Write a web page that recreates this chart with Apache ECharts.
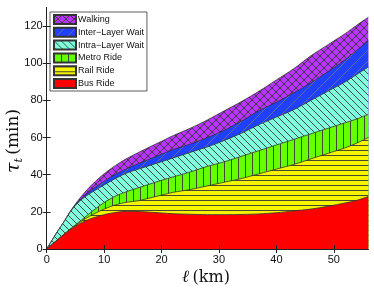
<!DOCTYPE html>
<html><head><meta charset="utf-8">
<script src="https://cdn.jsdelivr.net/npm/echarts@6/dist/echarts.min.js"></script>
<style>html,body{margin:0;padding:0;background:#fff}#c{width:374px;height:288px}</style>
</head><body><div id="c"></div>
<script>
// distance l (km)
const dist = [0,1,2,3,4,5,6,7,8,10,12,14,16,18,20,22,25,28,31,34,37,40,43,46,49,52,54,56];
// cumulative boundaries (top of each layer), minutes
const busTop    = [0,2.6,5.3,7.8,10.2,12.3,14,15.5,16.7,18.5,19.7,20.3,20.2,19.8,19.4,19,18.7,18.5,18.5,18.6,18.9,19.5,20.5,21.5,23,24.8,26.2,28.3];
const railTop   = [0,2.6,5.3,7.8,10.3,12.6,14.8,16.8,18.5,21.5,23.8,25.2,26,27.5,29,30.5,32,34,36,38,40.5,43,45.5,48.5,51.5,54.5,57,60];
const metroTop  = [0,2.6,5.3,7.9,10.5,13,15.5,18,20.5,25,28.5,31,33,35,37,38.8,41.5,44.5,47,50,53,56,59,62,65,68,70,72.5];
const intraTop  = [0,5,10,14.6,19.5,23.5,26.5,28.8,30.8,34.5,38,41,43,45,47,49,52,55,58.5,62.5,67,71,75,80,85,90,94,98];
const interTop  = [0,5,10,14.6,19.6,23.7,27,29.8,32.2,36.5,40.2,43.3,46,48.5,51,53.5,56.5,60,64,69,74.5,79,84,89.5,95.5,102,107,112];
const walkTop   = [0,5,10,14.6,19.8,24.2,28.2,31.8,35,40.5,45,48.8,52,55,58,61,65,69.5,74.5,79.5,85,91,97,104,110,116,120.5,124.7];
const names = ['Bus Ride','Rail Ride','Metro Ride','Intra\u2212Layer Wait','Inter\u2212Layer Wait','Walking'];
const yTicks = [0,20,40,60,80,100,120];
const xTicks = [0,10,20,30,40,50];

function pat(bg, size, draw, stroke){
  const c=document.createElement('canvas'); c.width=size; c.height=size;
  const g=c.getContext('2d'); g.fillStyle=bg; g.fillRect(0,0,size,size);
  g.strokeStyle=stroke||'rgba(55,55,55,0.9)'; g.lineWidth=1; g.beginPath(); draw(g,size); g.stroke();
  return {image:c, repeat:'repeat'};
}
const back=(g,s)=>{for(let k=-1;k<=1;k++){g.moveTo(k*s,0);g.lineTo(k*s+s,s);}};
const fwd=(g,s)=>{for(let k=-1;k<=1;k++){g.moveTo(k*s,s);g.lineTo(k*s+s,0);}};
const fills = [
  '#FF0000',
  pat('#F5F500',5,(g,s)=>{g.moveTo(0,0.5);g.lineTo(s,0.5);}),
  pat('#66FF00',7,(g,s)=>{g.moveTo(0.5,0);g.lineTo(0.5,s);}),
  pat('#80FFDD',7,back),
  pat('#2040FF',11,fwd,'rgba(110,110,140,0.9)'),
  pat('#BB33FF',8,(g,s)=>{back(g,s);fwd(g,s);})
];
const tops=[busTop,railTop,metroTop,intraTop,interTop,walkTop];
// draw from the top layer down; each opaque area covers the ones above it
const series = tops.map((arr,i)=>({
  name:names[i], type:'line', symbol:'none', smooth:0.3,
  data: dist.map((d,j)=>[d, arr[j]]),
  lineStyle:{color:'#333',width:0.8},
  itemStyle:{color:fills[i],borderColor:'#333',borderWidth:0.8},
  areaStyle:{color:fills[i],opacity:1,origin:'start'},
  silent:true
})).reverse();
series.forEach((s,k)=>{s.z = 2 + k;});
const chart=echarts.init(document.getElementById('c'),null,{renderer:'canvas'});
const axLine={show:true,lineStyle:{color:'#222',width:1}};
const tick=(cv)=>({inside:true,length:4,lineStyle:{color:'#222'},customValues:cv});
chart.setOption({
  animation:false,
  grid:{left:46.7,right:5.7,top:7.5,bottom:39},
  legend:{
    orient:'vertical',left:50,top:12,icon:'rect',itemWidth:22,itemHeight:9,itemGap:1.8,
    padding:[2,3,2,3],borderColor:'#333',borderWidth:0.8,backgroundColor:'#fff',z:20,
    textStyle:{fontFamily:'Liberation Sans, Arial',fontSize:9,color:'#111',padding:[0,0,0,-3]},
    data:names.slice().reverse()
  },
  xAxis:[
    {type:'value',min:0,max:56,interval:10,axisLine:axLine,splitLine:{show:false},z:30,
     axisLabel:{color:'#111',fontSize:11,fontFamily:'Liberation Sans, Arial',margin:5,customValues:xTicks},axisTick:tick(xTicks)},
    {type:'value',position:'top',min:0,max:56,interval:10,axisLine:axLine,splitLine:{show:false},z:30,
     axisLabel:{show:false},axisTick:tick(xTicks)}
  ],
  yAxis:[
    {type:'value',min:0,max:130,interval:20,axisLine:axLine,splitLine:{show:false},z:30,
     axisLabel:{color:'#111',fontSize:11,fontFamily:'Liberation Sans, Arial',margin:4,customValues:yTicks},axisTick:tick(yTicks)},
    {type:'value',position:'right',min:0,max:130,interval:20,axisLine:axLine,splitLine:{show:false},z:30,
     axisLabel:{show:false},axisTick:tick(yTicks)}
  ],
  graphic:[
    {type:'text',x:14,y:141,rotation:Math.PI/2,style:{text:'{a|\u03c4}{b|t} {c|(min)}',align:'center',verticalAlign:'middle',
      rich:{a:{fontFamily:'DejaVu Serif',fontStyle:'italic',fontSize:19,fill:'#111'},b:{fontFamily:'DejaVu Serif',fontStyle:'italic',fontSize:11,fill:'#111',padding:[10,0,0,0]},c:{fontFamily:'DejaVu Serif',fontSize:17,fill:'#111'}}}},
    {type:'text',x:206,y:278,style:{text:'{a|\u2113} {c|(km)}',align:'center',verticalAlign:'middle',
      rich:{a:{fontFamily:'DejaVu Serif',fontStyle:'italic',fontSize:17,fill:'#111'},c:{fontFamily:'DejaVu Serif',fontSize:16,fill:'#111'}}}}
  ],
  series:series
});
</script></body></html>
